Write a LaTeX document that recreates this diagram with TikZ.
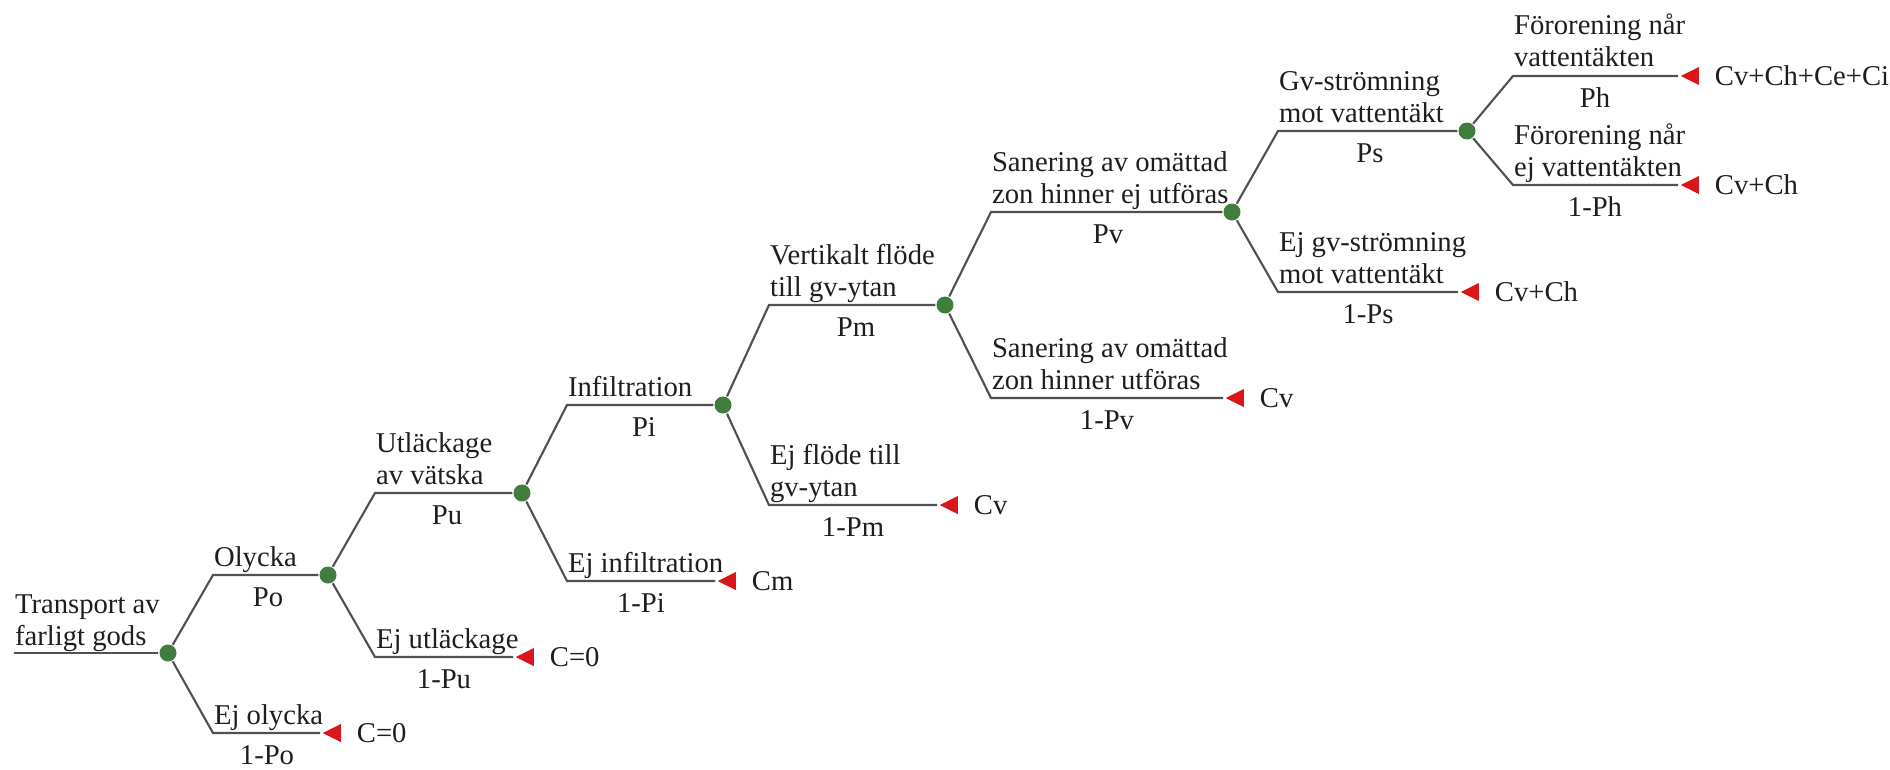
\documentclass[tikz,border=0pt]{standalone}
\usepackage{fontspec}
\setmainfont{Liberation Serif}
\usepackage{xcolor}
\usepackage{tikz}
\usetikzlibrary{positioning,shapes.geometric}
\definecolor{chancegreen}{RGB}{64,125,62}
\definecolor{leafred}{RGB}{218,22,24}
\definecolor{branchgray}{RGB}{80,80,80}
\definecolor{textgray}{RGB}{30,30,30}

\begin{document}
\begin{tikzpicture}[x=0.01cm, y=-0.01cm, line width=0.6pt,
  chance/.style={circle, fill=chancegreen, minimum size=0.17cm, inner sep=0pt},
  leaf/.style={isosceles triangle, shape border rotate=180, isosceles triangle stretches,
    minimum width=0.18cm, minimum height=0.18cm, inner sep=0pt, fill=leafred, anchor=apex},
  event/.style={anchor=base west, align=left, inner sep=0pt, text=textgray,
    font=\fontsize{8.15pt}{8.96pt}\selectfont},
  prob/.style={anchor=base, inner sep=0pt, text=textgray, font=\fontsize{8.15pt}{8.96pt}\selectfont},
  cost/.style={inner sep=0pt, text=textgray, font=\fontsize{8.15pt}{8.96pt}\selectfont}]
\useasboundingbox (0,0) rectangle (1890,769);

\coordinate (root) at (14,653);
\node[chance] (n1) at (168,653) {};
\node[chance] (n2) at (328,575) {};
\node[chance] (n3) at (522,493) {};
\node[chance] (n4) at (723,405) {};
\node[chance] (n5) at (945,305) {};
\node[chance] (n6) at (1232,212) {};
\node[chance] (n7) at (1467,131) {};

\coordinate (a1) at (213,575); \coordinate (b1) at (213,733);
\coordinate (a2) at (375,493); \coordinate (b2) at (375,657);
\coordinate (a3) at (567,405); \coordinate (b3) at (567,581);
\coordinate (a4) at (769,305); \coordinate (b4) at (769,505);
\coordinate (a5) at (991,212); \coordinate (b5) at (991,398);
\coordinate (a6) at (1278,131); \coordinate (b6) at (1278,292);
\coordinate (a7) at (1513,76); \coordinate (b7) at (1513,185);

\node[leaf] (t1) at (320,733) {};
\node[leaf] (t2) at (513,657) {};
\node[leaf] (t3) at (715,581) {};
\node[leaf] (t4) at (937,505) {};
\node[leaf] (t5) at (1223,398) {};
\node[leaf] (t6) at (1458,292) {};
\node[leaf] (t7) at (1678,76) {};
\node[leaf] (t8) at (1678,185) {};

\node[cost, right=0.14cm of t1] (c1) {C=0};
\node[cost, right=0.14cm of t2] (c2) {C=0};
\node[cost, right=0.14cm of t3] (c3) {Cm};
\node[cost, right=0.14cm of t4] (c4) {Cv};
\node[cost, right=0.14cm of t5] (c5) {Cv};
\node[cost, right=0.14cm of t6] (c6) {Cv+Ch};
\node[cost, right=0.14cm of t7] (c7) {Cv+Ch+Ce+Ci};
\node[cost, right=0.14cm of t8] (c8) {Cv+Ch};

\draw[branchgray] (root) -- (n1);
\draw[branchgray] (n1) -- (a1) -- (n2);
\draw[branchgray] (n1) -- (b1) -- (t1);
\draw[branchgray] (n2) -- (a2) -- (n3);
\draw[branchgray] (n2) -- (b2) -- (t2);
\draw[branchgray] (n3) -- (a3) -- (n4);
\draw[branchgray] (n3) -- (b3) -- (t3);
\draw[branchgray] (n4) -- (a4) -- (n5);
\draw[branchgray] (n4) -- (b4) -- (t4);
\draw[branchgray] (n5) -- (a5) -- (n6);
\draw[branchgray] (n5) -- (b5) -- (t5);
\draw[branchgray] (n6) -- (a6) -- (n7);
\draw[branchgray] (n6) -- (b6) -- (t6);
\draw[branchgray] (n7) -- (a7) -- (t7);
\draw[branchgray] (n7) -- (b7) -- (t8);

% event texts above the branches (base = last line)
\node[event] (e0) at (14,645) {Transport av\\farligt gods};
\node[event] (e1) at (213,566) {Olycka};
\node[event] (e2) at (213,724) {Ej olycka};
\node[event] (e3) at (375,484) {Utläckage\\av vätska};
\node[event] (e4) at (375,648) {Ej utläckage};
\node[event] (e5) at (567,396) {Infiltration};
\node[event] (e6) at (567,572) {Ej infiltration};
\node[event] (e7) at (769,296) {Vertikalt flöde\\till gv-ytan};
\node[event] (e8) at (769,496) {Ej flöde till\\gv-ytan};
\node[event] (e9) at (991,203) {Sanering av omättad\\zon hinner ej utföras};
\node[event] (e10) at (991,389) {Sanering av omättad\\zon hinner utföras};
\node[event] (e11) at (1278,122) {Gv-strömning\\mot vattentäkt};
\node[event] (e12) at (1278,283) {Ej gv-strömning\\mot vattentäkt};
\node[event] (e13) at (1513,66) {Förorening når\\vattentäkten};
\node[event] (e14) at (1513,176) {Förorening når\\ej vattentäkten};

% probabilities below the branches
\node[prob] (p1) at (268,606) {Po};
\node[prob] (p2) at (267,764) {1-Po};
\node[prob] (p3) at (447,524) {Pu};
\node[prob] (p4) at (444,688) {1-Pu};
\node[prob] (p5) at (644,436) {Pi};
\node[prob] (p6) at (641,612) {1-Pi};
\node[prob] (p7) at (856,336) {Pm};
\node[prob] (p8) at (853,536) {1-Pm};
\node[prob] (p9) at (1108,243) {Pv};
\node[prob] (p10) at (1107,429) {1-Pv};
\node[prob] (p11) at (1370,162) {Ps};
\node[prob] (p12) at (1368,323) {1-Ps};
\node[prob] (p13) at (1595,107) {Ph};
\node[prob] (p14) at (1595,216) {1-Ph};
\end{tikzpicture}
\end{document}
